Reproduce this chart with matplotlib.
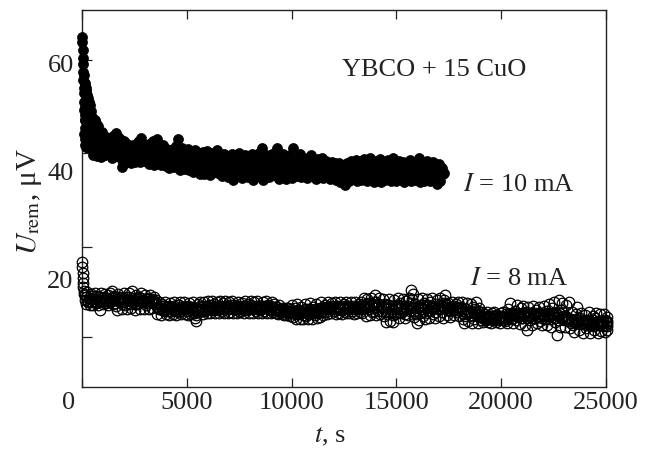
import numpy as np
import matplotlib
matplotlib.use("Agg")
import matplotlib.pyplot as plt
from matplotlib.ticker import FixedLocator
from matplotlib.transforms import ScaledTranslation

plt.rcParams['font.family'] = ['Liberation Serif', 'DejaVu Serif']
plt.rcParams['mathtext.fontset'] = 'stix'

# ---------------------------------------------------
# data, U_rem in microvolts
# ---------------------------------------------------

# I = 10 mA, fast decay right after switching off
t10_early = [10, 20, 30, 40, 50, 60, 70, 80, 90, 100, 110, 120, 130, 140, 150,
             160, 170, 180, 190, 200, 210, 220, 230, 240, 250, 260, 270, 280, 290, 300]
u10_early = [65.0, 64.0, 62.5, 61.0, 60.0, 58.5, 57.0, 55.5, 54.5, 53.0, 51.5, 50.5, 49.5, 48.0, 47.0,
             46.0, 45.0, 44.5, 55.5, 53.5, 47.5, 52.0, 45.5, 50.5, 44.5, 49.0, 46.5, 51.0, 45.0, 48.5]
t10_early_b = [105, 115, 125, 135, 145, 155, 165, 175, 185, 195, 205, 215, 225, 235, 245,
               255, 265, 275, 285, 295, 305, 315, 325, 335, 345]
u10_early_b = [58.0, 47.0, 56.5, 52.0, 45.0, 55.8, 49.5, 54.0, 46.5, 51.5, 55.0, 44.8, 50.0, 54.2, 47.5,
               52.8, 45.8, 53.6, 49.0, 44.6, 51.8, 47.2, 53.0, 45.4, 50.6]

# I = 10 mA, readings every 60 s from t = 360 s
u10 = [
    52.3, 44.6, 50.2, 43.0, 49.5, 45.8, 42.8, 48.4, 44.9, 42.7, 47.4, 44.2, 43.0, 46.4, 45.0,
    46.2, 43.0, 44.8, 42.6, 45.9, 43.8, 47.2, 44.5, 42.8, 46.0, 43.5, 40.8, 45.3, 41.6, 44.0,
    45.2, 42.0, 43.6, 41.5, 44.8, 42.6, 41.7, 44.2, 43.0, 45.6, 41.8, 46.2, 43.4, 42.0, 44.6,
    42.6, 44.8, 41.4, 43.5, 42.0, 44.4, 41.2, 43.0, 45.0, 46.1, 42.4, 44.0, 41.3, 43.6, 42.2,
    44.3, 41.0, 42.8, 40.6, 43.9, 41.8, 44.2, 40.8, 42.5, 44.8, 46.0, 41.4, 40.3, 43.2, 41.6,
    43.8, 40.4, 42.0, 44.2, 40.2, 41.8, 43.6, 39.9, 42.8, 44.0, 40.6, 41.9, 43.2, 39.6, 42.4,
    43.7, 39.5, 41.2, 43.9, 40.3, 42.6, 39.4, 41.8, 43.5, 40.0, 42.1, 44.0, 39.7, 41.5, 43.0,
    39.2, 42.0, 43.3, 40.1, 41.6, 38.9, 42.8, 40.5, 43.2, 38.4, 41.2, 42.9, 39.4, 41.8, 43.4,
    40.0, 38.8, 42.3, 39.6, 43.1, 41.0, 38.9, 42.6, 40.3, 43.3, 38.4, 41.5, 39.3, 42.8, 40.6,
    43.4, 39.0, 44.4, 38.5, 41.7, 43.0, 39.8, 42.2, 38.9, 40.9, 43.2, 39.4, 42.0, 40.2, 44.3,
    41.0, 38.7, 42.6, 39.5, 43.2, 40.4, 38.6, 42.1, 39.8, 43.0, 41.3, 38.8, 44.3, 40.0, 42.4,
    39.2, 41.8, 43.3, 38.9, 40.7, 42.5, 39.6, 41.4, 38.8, 42.6, 40.1, 43.0, 39.3, 41.6, 42.2,
    38.7, 40.9, 42.4, 39.0, 41.3, 42.6, 38.8, 40.4, 42.0, 39.2, 41.1, 38.6, 40.6, 41.8, 39.4,
    41.5, 38.4, 40.2, 41.6, 38.1, 39.9, 41.2, 37.8, 37.5, 40.3, 41.6, 38.3, 40.0, 42.0, 38.7,
    41.0, 39.0, 42.1, 38.2, 40.5, 41.9, 38.5, 40.8, 42.3, 38.9, 41.3, 38.2, 40.4, 42.6, 39.5,
    41.2, 38.1, 40.1, 42.0, 38.7, 40.7, 42.4, 38.0, 39.8, 41.6, 38.4, 40.3, 42.1, 39.0, 41.0,
    38.2, 42.5, 39.6, 41.4, 38.3, 40.2, 42.0, 38.6, 40.7, 41.8, 38.0, 39.9, 41.5, 38.5, 40.6,
    42.1, 38.2, 40.0, 41.7, 38.4, 40.4, 42.0, 42.5, 38.1, 40.1, 41.6, 38.3, 40.3, 41.9, 38.6,
    41.3, 38.2, 40.2, 41.8, 38.5, 40.5, 37.6, 39.5, 41.4, 38.3, 40.6, 39.5,
]
# I = 10 mA, the readings in between (from t = 390 s)
u10_b = [
    48.0, 51.2, 46.2, 47.5, 44.0, 49.0, 46.8, 44.8, 47.0, 45.6, 43.8, 46.0, 44.6, 45.4, 43.6,
    44.5, 45.8, 44.0, 46.6, 42.9, 45.0, 44.2, 46.4, 43.2, 44.7, 42.2, 43.8, 45.6, 42.6, 43.4,
    43.2, 44.6, 42.8, 43.9, 45.0, 42.2, 44.0, 42.9, 45.4, 43.6, 44.4, 42.4, 44.9, 43.0, 41.9,
    43.8, 42.7, 45.2, 42.2, 43.2, 45.6, 42.6, 44.2, 43.6, 41.8, 44.6, 43.0, 42.4, 45.0, 43.8,
    42.6, 43.5, 41.6, 44.0, 42.2, 43.0, 41.4, 43.8, 42.0, 43.4, 44.2, 42.8, 41.8, 44.4, 42.4,
    41.8, 43.0, 40.9, 42.6, 43.2, 41.2, 42.6, 40.8, 43.6, 41.6, 42.4, 40.6, 43.4, 41.0, 40.9,
    41.6, 42.2, 40.4, 42.8, 41.2, 40.6, 43.0, 40.9, 42.2, 41.4, 43.2, 40.4, 42.4, 40.8, 41.8,
    40.8, 41.4, 42.2, 39.8, 42.8, 40.2, 41.6, 39.6, 42.0, 40.6, 39.8, 42.2, 40.4, 41.0, 42.4,
    41.4, 40.0, 41.0, 42.0, 39.8, 40.6, 41.8, 39.6, 41.8, 39.8, 42.2, 40.4, 41.0, 40.0, 41.8,
    40.6, 42.0, 40.2, 41.4, 39.6, 42.4, 40.6, 41.2, 39.8, 42.0, 40.4, 41.4, 39.8, 42.4, 41.0,
    40.2, 41.8, 39.8, 41.2, 40.6, 42.0, 39.6, 40.8, 41.6, 39.6, 42.2, 40.0, 41.4, 39.7, 41.2,
    40.6, 39.8, 41.2, 40.4, 42.0, 39.6, 40.6, 42.0, 40.0, 41.4, 39.5, 41.8, 40.4, 40.0, 41.0,
    40.0, 41.6, 39.6, 40.6, 39.8, 41.4, 40.0, 41.6, 39.3, 40.6, 39.8, 41.2, 39.4, 40.4, 41.2,
    39.6, 40.8, 39.0, 40.8, 39.4, 41.0, 39.2, 39.6, 41.0, 39.0, 40.2, 39.6, 41.2, 39.4, 40.2,
    39.8, 40.6, 39.6, 41.4, 39.2, 40.0, 39.4, 41.6, 39.6, 40.2, 39.0, 41.4, 39.4, 40.4, 40.8,
    39.4, 40.2, 41.2, 39.2, 40.0, 41.0, 39.2, 40.6, 39.0, 40.6, 41.4, 39.3, 40.4, 39.6, 40.0,
    40.2, 39.4, 41.0, 39.6, 40.6, 39.0, 41.2, 39.6, 40.0, 39.2, 40.8, 39.4, 40.2, 39.8, 41.0,
    39.6, 40.8, 39.4, 40.2, 39.2, 41.2, 39.4, 40.0, 39.4, 40.6, 39.2, 41.2, 39.0, 40.0, 39.8,
    39.6, 40.6, 39.2, 40.0, 39.4, 41.0, 38.8, 40.4, 39.4, 39.6, 40.0, 39.8,
]

# I = 8 mA, first seconds
t8_early = [10, 20, 30, 40, 50, 60, 75, 90]
u8_early = [23.2, 22.2, 21.2, 20.3, 19.4, 18.6, 17.9, 17.3]

# I = 8 mA, readings every 60 s from t = 120 s
u8 = [
    17.0, 15.4, 17.6, 16.0, 15.2, 17.3, 16.4, 15.3, 17.5, 15.8, 16.9, 15.2, 14.3, 17.4, 16.1, 15.4,
    17.2, 15.6, 16.6, 15.2, 17.5, 16.0, 17.8, 15.4, 16.8, 15.0, 14.3, 17.3, 15.7, 16.5, 14.4, 17.4,
    15.3, 16.7, 14.4, 17.5, 15.9, 14.6, 17.8, 16.2, 14.3, 17.1, 15.5, 16.8, 14.5, 17.4, 15.8, 14.4,
    17.0, 15.2, 16.4, 14.4, 17.1, 15.7, 14.6, 16.8, 15.4, 16.2, 13.6, 15.8, 14.4, 13.4, 15.5, 14.1,
    15.7, 13.5, 14.8, 13.4, 15.6, 14.2, 13.6, 15.8, 14.5, 13.4, 15.3, 14.0, 15.7, 13.5, 14.7, 15.8,
    13.6, 14.9, 13.4, 15.6, 14.3, 13.5, 15.8, 14.0, 12.9, 12.3, 15.4, 13.9, 15.8, 14.5, 13.6, 15.7,
    14.2, 13.7, 15.9, 14.6, 13.8, 16.0, 14.3, 15.5, 13.7, 15.8, 14.8, 13.8, 16.0, 14.1, 15.6, 13.7,
    15.9, 14.4, 13.7, 15.7, 14.0, 16.0, 13.8, 15.2, 14.6, 13.7, 15.8, 14.2, 13.9, 15.6, 14.7, 13.7,
    16.0, 14.3, 15.4, 13.8, 16.0, 14.6, 13.7, 15.7, 14.1, 15.9, 13.8, 15.0, 14.4, 13.7, 15.8, 14.2,
    16.0, 13.8, 15.3, 14.5, 13.7, 15.8, 14.0, 15.5, 13.8, 14.8, 13.6, 15.2, 14.2, 13.5, 14.7, 13.4,
    14.6, 13.3, 14.7, 13.1, 14.4, 15.3, 13.0, 14.6, 12.6, 15.4, 13.5, 12.7, 14.9, 13.8, 12.6, 15.5,
    13.2, 14.5, 12.7, 15.6, 13.8, 12.6, 14.8, 13.3, 15.5, 12.8, 14.2, 13.0, 15.7, 13.9, 13.4, 15.2,
    14.0, 13.6, 15.8, 14.4, 13.7, 15.6, 14.1, 15.8, 13.6, 14.8, 13.8, 15.7, 14.3, 13.6, 15.5, 14.0,
    15.8, 13.7, 14.9, 13.8, 15.7, 14.2, 13.6, 15.8, 14.5, 13.7, 15.4, 14.0, 15.8, 13.8, 16.5, 14.6,
    13.2, 16.4, 15.0, 13.4, 16.6, 14.2, 15.7, 17.1, 13.3, 15.2, 16.5, 13.6, 14.8, 16.3, 13.1, 15.5,
    12.1, 14.6, 16.4, 12.3, 15.0, 12.1, 16.2, 13.5, 14.8, 16.5, 12.9, 15.6, 13.8, 16.3, 14.4, 12.8,
    15.9, 13.4, 16.5, 14.7, 18.0, 17.2, 13.0, 15.4, 11.9, 16.4, 12.4, 14.9, 16.6, 13.2, 15.6, 12.6,
    16.3, 14.1, 12.9, 15.8, 16.6, 13.5, 14.9, 12.8, 16.2, 14.4, 13.2, 16.5, 15.0, 12.9, 16.1, 17.1,
    13.4, 15.6, 14.3, 13.0, 15.8, 14.6, 13.3, 15.5, 14.0, 15.8, 13.1, 14.8, 15.7, 12.6, 11.9, 14.5,
    15.6, 12.2, 13.8, 15.4, 11.9, 14.9, 12.7, 15.7, 13.3, 11.9, 14.6, 12.4, 13.9, 12.0, 13.6, 12.5,
    13.9, 12.1, 13.2, 11.9, 13.8, 12.6, 13.9, 12.0, 13.4, 12.4, 11.9, 13.7, 12.8, 13.9, 12.2, 13.5,
    11.9, 14.4, 15.6, 12.6, 13.8, 11.9, 14.2, 12.4, 15.2, 13.0, 11.7, 14.7, 12.8, 15.0, 11.6, 13.9,
    10.6, 14.9, 12.5, 13.7, 11.5, 15.1, 12.9, 14.3, 11.8, 14.8, 12.2, 13.5, 11.5, 15.0, 12.7, 14.1,
    11.5, 15.5, 13.1, 11.2, 14.6, 15.8, 12.0, 13.8, 9.7, 16.2, 11.1, 14.3, 15.6, 12.4, 11.1, 15.2,
    13.0, 15.8, 11.0, 12.6, 13.9, 10.2, 12.1, 13.5, 14.9, 10.6, 12.8, 13.8, 10.0, 11.8, 13.4, 10.9,
    12.5, 13.9, 10.1, 11.7, 13.2, 10.5, 12.9, 13.8, 10.0, 11.6, 13.5, 10.4, 12.3, 13.6, 10.2, 12.0,
]
# I = 8 mA, the readings in between (from t = 150 s)
u8_b = [
    16.2, 16.8, 15.8, 16.6, 16.3, 15.7, 16.9, 16.0, 16.4, 15.6, 16.7, 16.1, 15.9, 16.5, 15.7, 16.8,
    16.3, 15.9, 17.0, 16.2, 15.7, 16.6, 16.1, 16.9, 15.6, 16.4, 15.9, 16.2, 16.7, 15.5, 16.3, 15.8,
    16.4, 15.6, 16.1, 16.8, 15.4, 16.2, 15.8, 16.6, 15.5, 16.3, 16.0, 15.6, 16.5, 15.9, 16.2, 15.7,
    16.0, 16.6, 15.6, 16.3, 15.9, 16.4, 15.8, 16.0, 15.6, 14.9, 14.6, 14.4, 15.1, 14.7, 14.3, 15.0,
    14.4, 14.9, 14.2, 15.1, 14.6, 14.8, 14.3, 15.0, 14.1, 14.7, 14.5, 15.2, 14.2, 14.9, 14.4, 14.6,
    14.8, 14.2, 15.1, 14.5, 14.9, 14.3, 14.6, 13.8, 13.4, 14.7, 14.4, 15.0, 14.2, 14.8, 14.5, 14.3,
    15.0, 14.5, 14.8, 15.2, 14.4, 14.9, 14.7, 14.4, 15.1, 14.6, 14.3, 14.9, 15.1, 14.6, 14.5, 14.9,
    14.8, 15.1, 14.5, 14.7, 15.2, 14.6, 14.9, 14.4, 15.0, 14.8, 14.5, 15.0, 14.6, 14.9, 14.3, 15.1,
    14.7, 15.0, 14.5, 14.9, 15.2, 14.4, 14.8, 14.7, 15.0, 14.5, 14.9, 14.3, 15.1, 14.6, 14.8, 15.0,
    14.6, 14.9, 14.4, 14.8, 15.0, 14.3, 14.7, 14.5, 14.3, 14.1, 14.5, 14.2, 14.0, 14.4, 14.1, 14.3,
    14.0, 13.8, 14.2, 13.9, 14.0, 14.2, 13.8, 13.6, 14.1, 13.9, 14.3, 13.7, 14.2, 13.4, 14.0, 14.4,
    13.9, 14.1, 13.6, 14.4, 13.9, 14.2, 13.8, 14.5, 14.0, 13.7, 14.3, 14.6, 14.1, 14.8, 14.6, 14.4,
    14.8, 14.6, 14.9, 14.7, 15.1, 14.5, 14.9, 14.6, 15.0, 14.4, 14.8, 14.7, 15.0, 14.5, 14.9, 14.7,
    14.6, 15.0, 14.4, 14.8, 14.6, 15.1, 14.7, 14.9, 14.4, 15.0, 14.7, 14.8, 14.5, 15.1, 15.2, 15.4,
    14.8, 15.6, 14.4, 15.2, 14.0, 15.4, 14.6, 15.8, 14.9, 14.2, 15.5, 14.8, 14.1, 15.0, 14.6, 15.3,
    13.6, 14.0, 15.2, 13.8, 14.4, 13.4, 15.0, 14.4, 13.9, 15.2, 14.0, 14.6, 15.1, 14.2, 13.6, 14.9,
    14.4, 15.0, 14.2, 15.6, 16.4, 14.8, 14.2, 13.6, 14.6, 15.0, 13.8, 14.4, 15.2, 14.0, 14.8, 13.8,
    14.9, 15.2, 14.2, 14.6, 15.0, 14.8, 14.0, 15.4, 14.6, 15.0, 14.4, 15.2, 14.0, 15.6, 14.8, 15.4,
    14.6, 14.9, 14.2, 14.7, 14.4, 15.0, 14.5, 14.8, 14.3, 14.6, 14.9, 14.1, 14.4, 13.6, 13.2, 14.0,
    13.6, 14.2, 13.4, 14.0, 13.2, 13.8, 14.4, 13.5, 14.1, 13.0, 13.6, 13.2, 13.0, 12.7, 13.2, 12.9,
    12.6, 13.0, 12.7, 13.2, 12.5, 13.1, 12.8, 13.3, 12.6, 13.0, 12.8, 13.2, 12.5, 13.0, 12.9, 12.7,
    13.2, 13.6, 13.0, 13.4, 12.8, 13.6, 13.3, 13.8, 13.1, 13.5, 13.4, 12.9, 13.7, 13.2, 13.5, 12.9,
    13.4, 13.2, 13.8, 12.9, 13.6, 13.3, 13.7, 13.0, 13.5, 13.2, 13.8, 12.8, 13.4, 13.6, 13.1, 13.3,
    13.2, 13.8, 12.6, 13.5, 13.0, 13.6, 12.8, 13.4, 12.4, 13.7, 13.0, 12.6, 13.9, 13.2, 12.9, 12.6,
    12.2, 12.7, 11.8, 12.4, 11.6, 12.2, 12.6, 11.9, 12.4, 12.1, 11.7, 12.5, 11.9, 12.3, 11.5, 12.2,
    11.8, 12.3, 11.6, 12.0, 12.4, 11.4, 12.1, 11.7, 12.2, 11.5, 12.0, 11.8, 11.3, 12.4, 11.6, 11.9,
]

# last readings of the 8 mA run
t8_end = [25050, 25050, 25050, 25050]
u8_end = [13.0, 12.2, 11.4, 10.6]

x_ticks = [0, 5000, 10000, 15000, 20000, 25000]
y_ticks = [20, 40, 60]
y_marks = [60.7, 43.5, 26.0, 9.2]   # tick marks as printed on the left axis

t10_all = np.concatenate([t10_early, t10_early_b, 360 + 60 * np.arange(len(u10)),
                          390 + 60 * np.arange(len(u10_b))])
u10_all = np.concatenate([u10_early, u10_early_b, u10, u10_b])
t8_all = np.concatenate([t8_early, 120 + 60 * np.arange(len(u8)),
                         150 + 60 * np.arange(len(u8_b)), t8_end])
u8_all = np.concatenate([u8_early, u8, u8_b, u8_end])

o10 = np.argsort(t10_all, kind='stable')
o8 = np.argsort(t8_all, kind='stable')

# ---------------------------------------------------
# plot
# ---------------------------------------------------
ink = '#222222'
fig = plt.figure(figsize=(6.52, 4.49), dpi=100)
ax = fig.add_axes([82 / 652, 62 / 449, 524 / 652, 377 / 449])

ax.plot(t8_all[o8], u8_all[o8], 'o', ms=7.6, mfc='none', mec='black', mew=0.9,
        clip_on=False, zorder=3)
ax.plot(t10_all[o10], u10_all[o10], 'o', ms=7.2, mfc='black', mec='black', mew=0.5,
        clip_on=False, zorder=3)

ax.set_xlim(0, 25000)
ax.set_ylim(0, 70)

for s in ax.spines.values():
    s.set_linewidth(1.0)
    s.set_color(ink)

ax.set_xticks(x_ticks)
ax.set_xticklabels([str(v) for v in x_ticks])
ax.tick_params(axis='x', which='major', direction='in', top=True, bottom=True,
               length=6.8, width=0.9, color=ink, pad=3.5, labelsize=19, labelcolor=ink)

ax.set_yticks(y_ticks)
ax.set_yticklabels([str(v) for v in y_ticks])
ax.yaxis.set_minor_locator(FixedLocator(y_marks))
ax.tick_params(axis='y', which='major', length=0, pad=6, labelsize=19, labelcolor=ink)
ax.tick_params(axis='y', which='minor', direction='in', left=True, right=False,
               length=7.2, width=0.9, color=ink)

# the "0" sits a little left of the origin in the original
lbl0 = ax.get_xticklabels()[0]
lbl0.set_transform(lbl0.get_transform() + ScaledTranslation(-13 / 100, 0, fig.dpi_scale_trans))

ax.text(0.473, -0.146, r'$t$, s', transform=ax.transAxes, ha='center', va='baseline',
        fontsize=19, color=ink)
ax.text(-0.100, 0.493, r'$U_{\mathrm{rem}}$, μV', transform=ax.transAxes, rotation=90,
        ha='center', va='center', fontsize=21, color=ink)

ax.text(0.496, 0.825, 'YBCO + 15 CuO', transform=ax.transAxes, ha='left', va='baseline',
        fontsize=19, color=ink)
ax.text(0.727, 0.521, r'$I$ = 10 mA', transform=ax.transAxes, ha='left', va='baseline',
        fontsize=19, color=ink)
ax.text(0.741, 0.271, r'$I$ = 8 mA', transform=ax.transAxes, ha='left', va='baseline',
        fontsize=19, color=ink)

fig.savefig('out.png', dpi=100)
